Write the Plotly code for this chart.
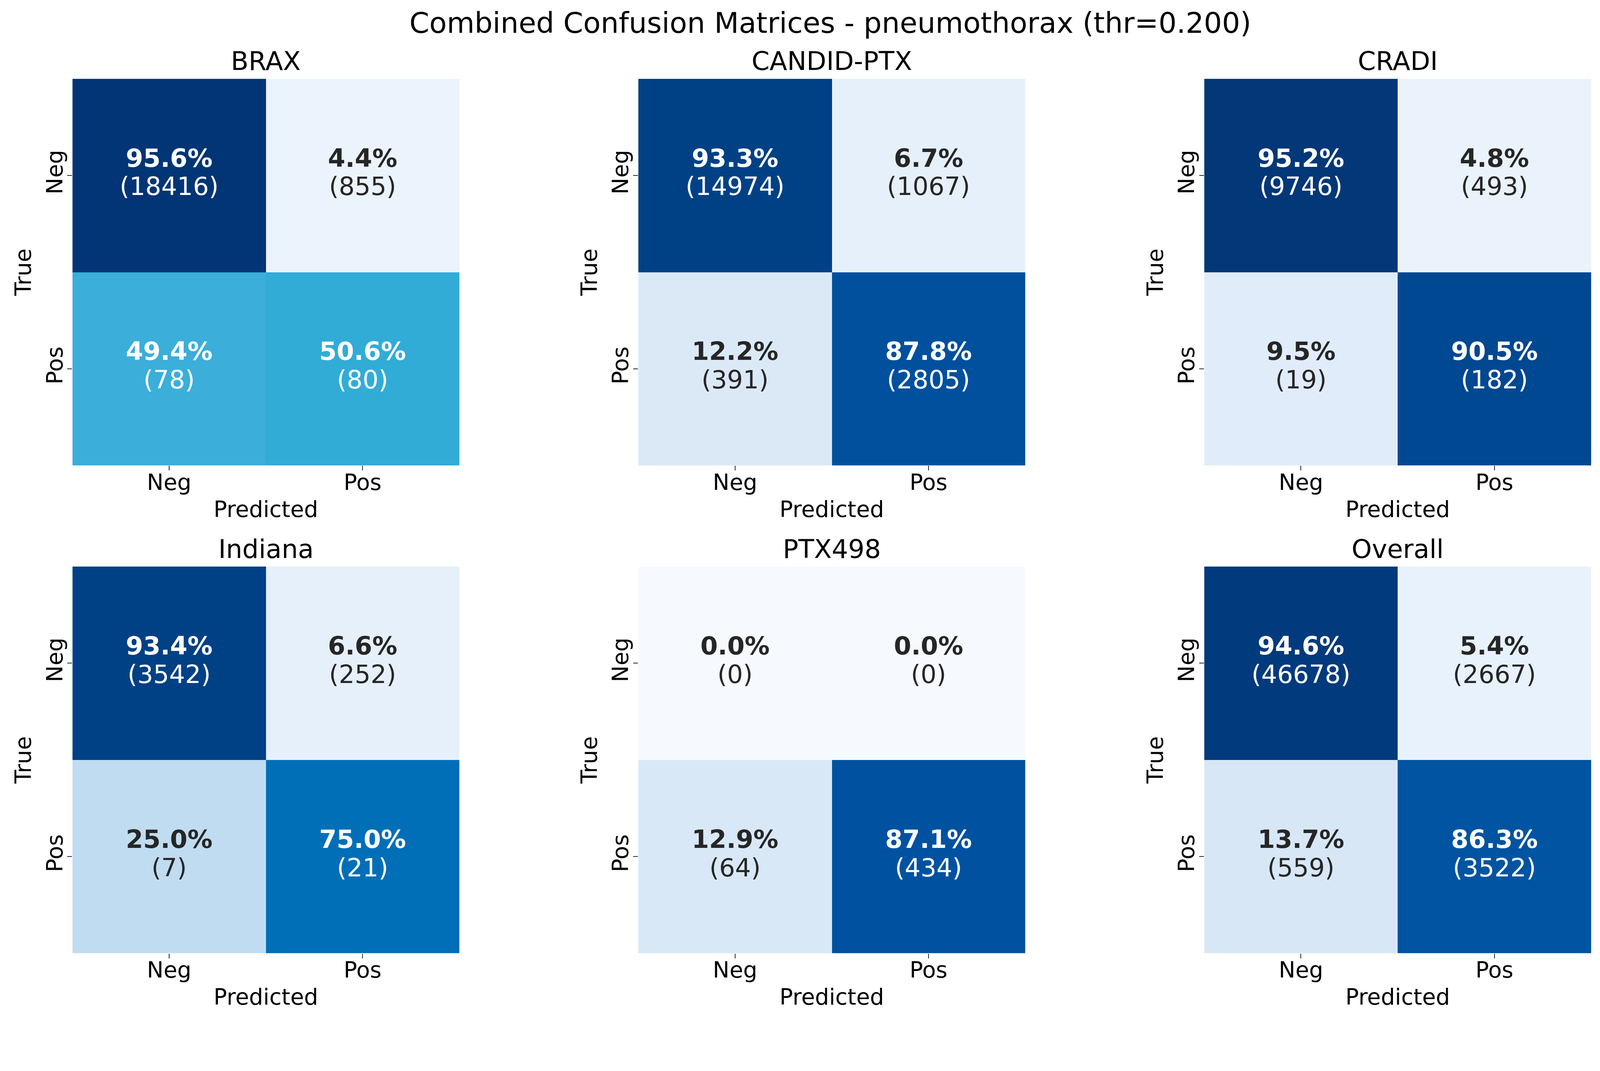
import plotly.graph_objects as go

# reference is 4313x2741; the browser shows it at ~1.052 device px per css px
S = 1.052
REF_W, REF_H = 4313, 2741
W, H = round(REF_W / S), round(REF_H / S)

labels = ["Neg", "Pos"]
datasets = ["BRAX", "CANDID-PTX", "CRADI", "Indiana", "PTX498", "Overall"]

# rows = true class (Neg, Pos), cols = predicted class (Neg, Pos)
brax_counts = [[18416, 855], [78, 80]]
brax_pct = [[95.6, 4.4], [49.4, 50.6]]
candid_counts = [[14974, 1067], [391, 2805]]
candid_pct = [[93.3, 6.7], [12.2, 87.8]]
cradi_counts = [[9746, 493], [19, 182]]
cradi_pct = [[95.2, 4.8], [9.5, 90.5]]
indiana_counts = [[3542, 252], [7, 21]]
indiana_pct = [[93.4, 6.6], [25.0, 75.0]]
ptx498_counts = [[0, 0], [64, 434]]
ptx498_pct = [[0.0, 0.0], [12.9, 87.1]]
overall_counts = [[46678, 2667], [559, 3522]]
overall_pct = [[94.6, 5.4], [13.7, 86.3]]

all_counts = [brax_counts, candid_counts, cradi_counts, indiana_counts, ptx498_counts, overall_counts]
all_pct = [brax_pct, candid_pct, cradi_pct, indiana_pct, ptx498_pct, overall_pct]

# blues-like scale as it looks in the picture
blues = [
    [0.00, "#f6faff"],
    [0.05, "#e9f2fc"],
    [0.13, "#d9e8f6"],
    [0.25, "#bfdcf1"],
    [0.49, "#3eafdb"],
    [0.51, "#2eabd6"],
    [0.75, "#006fb8"],
    [0.87, "#0052a0"],
    [0.935, "#004085"],
    [0.956, "#023575"],
    [1.00, "#08306b"],
]

# panel boxes in reference pixels (left, right) and (top, bottom)
cols_px = [(195, 1237), (1719, 2761), (3243, 4285)]
rows_px = [(212, 1253), (1525, 2566)]

FONT = "DejaVu Sans"
DARK = "#262626"
TICK_SIZE = 57
CELL_SIZE = 64
SUB_SIZE = 66

fig = go.Figure()
annotations = []

for i, name in enumerate(datasets):
    r, c = divmod(i, 3)
    n = i + 1
    xa = "x" if n == 1 else "x%d" % n
    ya = "y" if n == 1 else "y%d" % n
    pct = all_pct[i]
    cnt = all_counts[i]

    fig.add_trace(go.Heatmap(
        z=pct, x=labels, y=labels,
        colorscale=blues, zmin=0, zmax=100,
        showscale=False, xgap=0, ygap=0,
        xaxis=xa, yaxis=ya, hoverinfo="skip",
    ))

    tx, ty, tt, tc = [], [], [], []
    for a in range(2):
        for b in range(2):
            tx.append(labels[b])
            ty.append(labels[a])
            # base size sets the line gap, spans set the glyph size
            tt.append("<span style='font-size:%dpx'><b>%.1f%%</b></span><br>"
                      "<span style='font-size:%dpx'>(%d)</span>"
                      % (CELL_SIZE, pct[a][b], CELL_SIZE, cnt[a][b]))
            tc.append("white" if pct[a][b] > 40 else DARK)
    fig.add_trace(go.Scatter(
        x=tx, y=ty, text=tt, mode="text",
        textposition="middle center",
        textfont=dict(family=FONT, size=56, color=tc),
        xaxis=xa, yaxis=ya, showlegend=False, hoverinfo="skip",
    ))

    x0, x1 = cols_px[c]
    y0, y1 = rows_px[r]
    xdom = [x0 / REF_W, x1 / REF_W]
    ydom = [1 - y1 / REF_H, 1 - y0 / REF_H]

    fig.layout["xaxis" if n == 1 else "xaxis%d" % n] = dict(
        domain=xdom, anchor=ya, type="category",
        range=[-0.5, 1.5], showgrid=False, zeroline=False, showline=False,
        ticks="outside", ticklen=12, tickwidth=2, tickcolor=DARK,
        ticklabelstandoff=-19,
        tickfont=dict(family=FONT, size=TICK_SIZE, color="black"),
        title=dict(text="Predicted", standoff=17,
                   font=dict(family=FONT, size=TICK_SIZE, color="black")),
    )
    fig.layout["yaxis" if n == 1 else "yaxis%d" % n] = dict(
        domain=ydom, anchor=xa, type="category",
        range=[1.5, -0.5], showgrid=False, zeroline=False, showline=False,
        ticks="outside", ticklen=12, tickwidth=2, tickcolor=DARK,
        tickangle=-90, ticklabelstandoff=-10,
        tickfont=dict(family=FONT, size=TICK_SIZE, color="black"),
        title=dict(text="True", standoff=8,
                   font=dict(family=FONT, size=TICK_SIZE, color="black")),
    )

    annotations.append(dict(
        text=name, xref="paper", yref="paper",
        x=(x0 + x1) / 2 / REF_W, y=1 - (y0 - 47) / REF_H,
        xanchor="center", yanchor="middle", showarrow=False,
        font=dict(family=FONT, size=SUB_SIZE, color="black"),
    ))

fig.update_layout(
    width=W, height=H,
    margin=dict(l=0, r=0, t=0, b=0),
    paper_bgcolor="white", plot_bgcolor="white",
    showlegend=False,
    title=dict(
        text="Combined Confusion Matrices - pneumothorax (thr=0.200)",
        x=2236 / REF_W, y=1 - 62 / REF_H, xanchor="center", yanchor="middle",
        font=dict(family=FONT, size=73, color="black"),
    ),
    annotations=annotations,
)

fig.write_html("out.html", config={"displayModeBar": False},
               post_script="document.body.style.margin='0';")
